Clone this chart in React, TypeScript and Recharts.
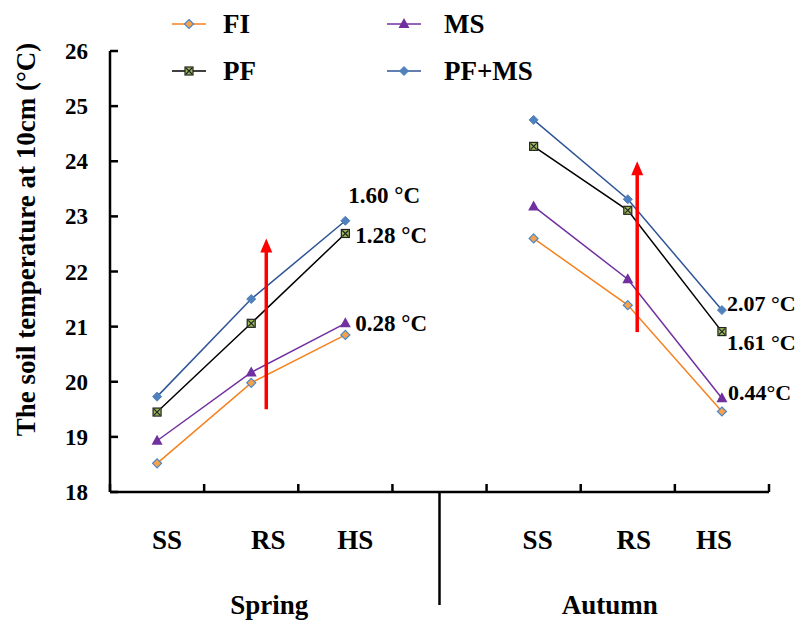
import { LineChart, Line, XAxis, YAxis, ReferenceLine, ReferenceDot } from 'recharts';

const stages = ['SS', 'RS', 'HS', '', 'SS', 'RS', 'HS'];
// small nudges of the stage labels, as placed in the original figure
const stageNudge = [10, 17, 10, 0, 4, 6, -8];
const fi = [18.52, 19.98, 20.85, null, 22.6, 21.39, 19.46];
const ms = [18.93, 20.17, 21.06, null, 23.18, 21.86, 19.7];
const pf = [19.45, 21.06, 22.69, null, 24.27, 23.11, 20.91];
const pfms = [19.73, 21.5, 22.92, null, 24.75, 23.31, 21.3];
const yTicks = [18, 19, 20, 21, 22, 23, 24, 25, 26];
const seasons = [
  { name: 'Spring', at: 1.5, dx: 18 },
  { name: 'Autumn', at: 5.5, dx: -18 },
];
// red arrows: x position, start and end temperature
const arrows = [
  { x: 1.66, from: 19.5, to: 22.6 },
  { x: 5.6, from: 20.9, to: 24.0 },
];
const notes = [
  { x: 2.5, y: 23.39, text: '1.60 \u00b0C', dx: 3, size: 23 },
  { x: 2.5, y: 22.66, text: '1.28 \u00b0C', dx: 10, size: 23 },
  { x: 2.5, y: 21.07, text: '0.28 \u00b0C', dx: 10, size: 23 },
  { x: 6.5, y: 21.43, text: '2.07 \u00b0C', dx: 5, size: 22 },
  { x: 6.5, y: 20.72, text: '1.61 \u00b0C', dx: 5, size: 22 },
  { x: 6.5, y: 19.81, text: '0.44\u00b0C', dx: 6, size: 22 },
];

const data = stages.map((s, i) => ({
  x: i + 0.5,
  stage: s,
  FI: fi[i],
  MS: ms[i],
  PF: pf[i],
  PFMS: pfms[i],
}));

const xTicks: number[] = [];
for (let i = 0; i <= stages.length * 2; i++) xTicks.push(i / 2);

const FONT = "'Liberation Serif', 'Times New Roman', serif";
const ORANGE = '#F58220';
const PURPLE = '#7030A0';
const BLUE = '#2F5597';
const LIGHTBLUE = '#4F81BD';
const GREEN = '#9BBB59';

function diamond(cx: number, cy: number, s: number) {
  return `M${cx},${cy - s}L${cx + s},${cy}L${cx},${cy + s}L${cx - s},${cy}Z`;
}

function Marker({ kind, cx, cy }: { kind: string; cx: number; cy: number }) {
  if (kind === 'FI')
    return <path d={diamond(cx, cy, 4.5)} fill="#F7A24B" stroke="#4A86C8" strokeWidth={1.2} />;
  if (kind === 'PFMS')
    return <path d={diamond(cx, cy, 4.5)} fill={LIGHTBLUE} stroke={LIGHTBLUE} strokeWidth={1} />;
  if (kind === 'MS')
    return <path d={`M${cx},${cy - 6}L${cx + 5.5},${cy + 4}L${cx - 5.5},${cy + 4}Z`} fill={PURPLE} />;
  return (
    <g>
      <rect x={cx - 4} y={cy - 4} width={8} height={8} fill={GREEN} stroke="#222" strokeWidth={1.2} />
      <path d={`M${cx - 3},${cy - 3}L${cx + 3},${cy + 3}M${cx + 3},${cy - 3}L${cx - 3},${cy + 3}`} stroke="#222" strokeWidth={1.2} />
    </g>
  );
}

function makeDot(kind: string) {
  return (p: any) => {
    if (p.cx == null || p.cy == null || p.value == null) return <g key={p.index} />;
    return (
      <g key={p.index}>
        <Marker kind={kind} cx={p.cx} cy={p.cy} />
      </g>
    );
  };
}

function XTick(p: any) {
  const { x, y, payload } = p;
  const v = payload.value as number;
  if (Number.isInteger(v)) {
    return <line x1={x} y1={y} x2={x} y2={y - 8} stroke="#000" strokeWidth={2.5} />;
  }
  const i = Math.floor(v);
  if (stages[i] === '') {
    return <line x1={x} y1={y} x2={x} y2={y + 113} stroke="#000" strokeWidth={2.5} />;
  }
  const season = seasons.find((s) => s.at === v);
  return (
    <g>
      <text x={x + stageNudge[i]} y={y + 57} textAnchor="middle" fontFamily={FONT} fontWeight="bold" fontSize={27} fill="#000">
        {stages[i]}
      </text>
      {season && (
        <text x={x + season.dx} y={y + 122} textAnchor="middle" fontFamily={FONT} fontWeight="bold" fontSize={27} fill="#000">
          {season.name}
        </text>
      )}
    </g>
  );
}

function YTick(p: any) {
  const { x, y, payload } = p;
  return (
    <g>
      <line x1={x} y1={y} x2={x + 8} y2={y} stroke="#000" strokeWidth={2.5} />
      <text x={x - 22} y={y + 8} textAnchor="end" fontFamily={FONT} fontWeight="bold" fontSize={23} fill="#000">
        {payload.value}
      </text>
    </g>
  );
}

function YLabel(p: any) {
  const vb = p.viewBox || {};
  const cx = vb.x + 15;
  const cy = vb.y + vb.height / 2 - 32;
  return (
    <text
      x={cx}
      y={cy}
      transform={`rotate(-90, ${cx}, ${cy})`}
      textAnchor="middle"
      fontFamily={FONT}
      fontWeight="bold"
      fontSize={27}
      fill="#000"
    >
      The soil temperature at 10cm (°C)
    </text>
  );
}

function Arrow(p: any) {
  const { x1, y1, x2, y2 } = p;
  const top = Math.min(y1, y2);
  const bottom = Math.max(y1, y2);
  const x = (x1 + x2) / 2;
  return (
    <g>
      <line x1={x} y1={bottom} x2={x} y2={top + 12} stroke="#FF0000" strokeWidth={3.5} />
      <path d={`M${x},${top}L${x + 6},${top + 14}L${x - 6},${top + 14}Z`} fill="#FF0000" />
    </g>
  );
}

const legendItems = [
  { kind: 'FI', label: 'FI', color: ORANGE, left: 164, top: 7, gap: 17 },
  { kind: 'MS', label: 'MS', color: PURPLE, left: 379, top: 7, gap: 23 },
  { kind: 'PF', label: 'PF', color: '#000', left: 164, top: 54, gap: 17 },
  { kind: 'PFMS', label: 'PF+MS', color: BLUE, left: 379, top: 54, gap: 23 },
];

export default function App() {
  return (
    <div style={{ position: 'relative', width: 796, height: 617 }}>
      <style>{'html, body { overflow: hidden; }'}</style>
      <LineChart width={796} height={617} data={data} margin={{ top: 43, right: 35, left: 12, bottom: 103 }}>
        <XAxis
          dataKey="x"
          type="number"
          domain={[0, 7]}
          ticks={xTicks}
          interval={0}
          tickSize={0}
          tickMargin={0}
          tickLine={false}
          height={30}
          axisLine={{ stroke: '#000', strokeWidth: 2.5 }}
          tick={(p: any) => <XTick {...p} />}
        />
        <YAxis
          type="number"
          domain={[18, 26]}
          ticks={yTicks}
          interval={0}
          width={90}
          tickSize={0}
          tickMargin={0}
          tickLine={false}
          axisLine={{ stroke: '#000', strokeWidth: 2.5 }}
          tick={(p: any) => <YTick {...p} />}
          label={{ content: (p: any) => <YLabel {...p} /> }}
        />
        <Line dataKey="FI" stroke={ORANGE} strokeWidth={1.5} dot={makeDot('FI')} activeDot={false} isAnimationActive={false} />
        <Line dataKey="MS" stroke={PURPLE} strokeWidth={1.5} dot={makeDot('MS')} activeDot={false} isAnimationActive={false} />
        <Line dataKey="PF" stroke="#000" strokeWidth={1.5} dot={makeDot('PF')} activeDot={false} isAnimationActive={false} />
        <Line dataKey="PFMS" stroke={BLUE} strokeWidth={1.5} dot={makeDot('PFMS')} activeDot={false} isAnimationActive={false} />
        {arrows.map((a, i) => (
          <ReferenceLine
            key={'a' + i}
            segment={[
              { x: a.x, y: a.from },
              { x: a.x, y: a.to },
            ]}
            shape={(p: any) => <Arrow {...p} />}
          />
        ))}
        {notes.map((n, i) => (
          <ReferenceDot
            key={'n' + i}
            x={n.x}
            y={n.y}
            r={0}
            fill="none"
            stroke="none"
            label={{
              value: n.text,
              position: 'right',
              offset: n.dx,
              style: { fontFamily: FONT, fontWeight: 'bold', fontSize: n.size, fill: '#000' },
            }}
          />
        ))}
      </LineChart>
      {legendItems.map((it) => (
        <div
          key={it.kind}
          style={{ position: 'absolute', left: it.left, top: it.top, display: 'flex', alignItems: 'center', height: 18 }}
        >
          <svg width={34} height={18}>
            <line x1={0} y1={9} x2={34} y2={9} stroke={it.color} strokeWidth={1.5} />
            <Marker kind={it.kind} cx={17} cy={9} />
          </svg>
          <span
            style={{
              marginLeft: it.gap,
              fontFamily: FONT,
              fontWeight: 'bold',
              fontSize: 27,
              lineHeight: '18px',
              color: '#000',
              whiteSpace: 'nowrap',
            }}
          >
            {it.label}
          </span>
        </div>
      ))}
    </div>
  );
}
